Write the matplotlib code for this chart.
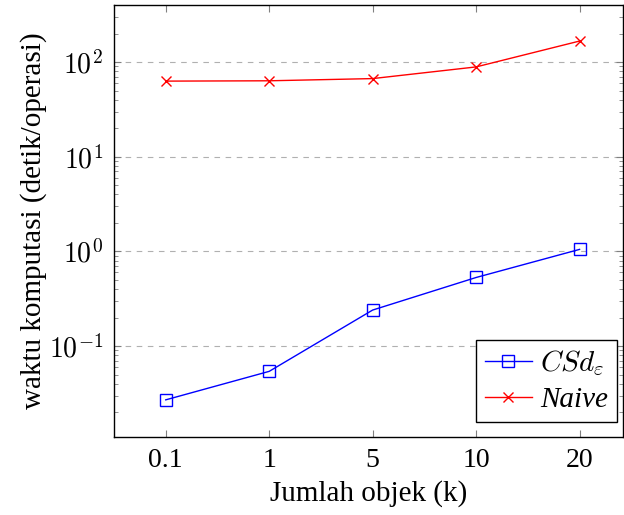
import matplotlib
matplotlib.use('Agg')
import matplotlib.pyplot as plt
from matplotlib import font_manager
import numpy as np
import os

# make sure the Times-like serif is registered
fdir = '/usr/share/fonts/truetype/liberation/'
for fn in ['LiberationSerif-Regular.ttf', 'LiberationSerif-Italic.ttf']:
    if os.path.exists(fdir + fn):
        font_manager.fontManager.addfont(fdir + fn)
plt.rcParams['font.family'] = ['Liberation Serif', 'DejaVu Serif']
plt.rcParams['mathtext.fontset'] = 'cm'

objek = ['0.1', '1', '5', '10', '20']
csd = [0.027, 0.054, 0.24, 0.53, 1.05]
naive = [63, 63.5, 67, 89, 167]

x = np.arange(len(objek))

fig = plt.figure(figsize=(6.24, 5.15), dpi=100)
ax = fig.add_axes([0.1827, 0.1515, 0.8157, 0.8385])

ax.plot(x, csd, color='blue', marker='s', markersize=8, markerfacecolor='none',
        markeredgewidth=1.0, linewidth=1.0, label=r'$CSd_{\varepsilon}$')
ax.plot(x, naive, color='red', marker='x', markersize=7, markeredgewidth=1.0,
        linewidth=1.0, label='Naive')

ax.set_yscale('log')
ax.set_ylim(0.01094, 400)
ax.set_xlim(-0.5, 4.42)
ax.set_xticks(x)
ax.set_xticklabels(objek)
ax.set_yticks([0.1, 1, 10, 100])
ax.set_yticklabels([r'$10^{-1}$', r'$10^{0}$', r'$10^{1}$', r'$10^{2}$'])

ax.grid(axis='y', which='major', color='#b0b0b0', linestyle=(0, (5, 5)), linewidth=0.8)
ax.tick_params(which='both', direction='in', top=True, right=True, color='#808080',
               labelsize=20, pad=8)
ax.tick_params(which='major', length=5, width=0.8)
ax.tick_params(which='minor', length=3, width=0.6)
ax.tick_params(axis='x', which='minor', bottom=False, top=False)
for s in ax.spines.values():
    s.set_linewidth(1.0)

ax.set_xlabel('Jumlah objek (k)', fontsize=21, labelpad=5)
ax.set_ylabel('waktu komputasi (detik/operasi)', fontsize=21, labelpad=1)

leg = ax.legend(loc='lower right', bbox_to_anchor=(0.988, 0.035), fontsize=21,
                fancybox=False, framealpha=1, edgecolor='black', handlelength=1.6,
                borderpad=0.3, labelspacing=0.3, handletextpad=0.3, borderaxespad=0)
leg.get_frame().set_linewidth(1.0)
leg.get_texts()[1].set_style('italic')

fig.savefig('out.png', dpi=100)
